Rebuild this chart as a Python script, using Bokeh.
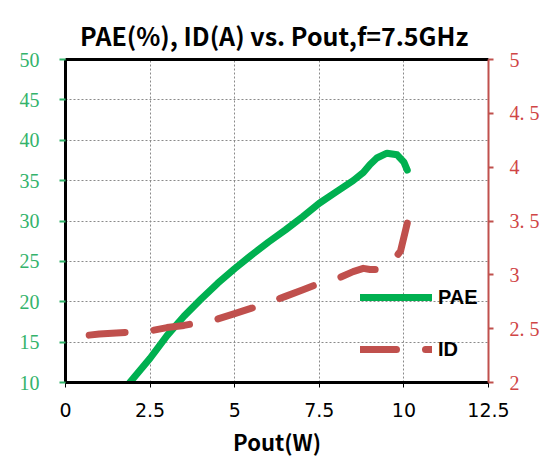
from bokeh.plotting import figure
from bokeh.models import (Range1d, LinearAxis, FixedTicker, Legend, LegendItem, Title, Grid)
from bokeh.embed import file_html
from bokeh.resources import INLINE

# ---- data ----
pout_pae = [1.9, 2.5, 3.0, 3.5, 4.0, 4.5, 5.0, 5.5, 6.0, 6.5, 7.0, 7.5, 8.0, 8.5, 8.8, 9.0, 9.2, 9.5, 9.8, 10.0, 10.1]
pae = [10.0, 13.0, 15.8, 18.2, 20.3, 22.3, 24.1, 25.8, 27.4, 28.9, 30.5, 32.2, 33.6, 35.0, 36.0, 37.0, 37.8, 38.4, 38.2, 37.3, 36.3]

pout_id = [0.7, 1.0, 1.5, 2.0, 2.5, 3.0, 3.5, 4.0, 4.5, 5.0, 5.5, 6.0, 6.5, 7.0, 7.5, 8.0, 8.5, 8.8, 9.0, 9.3, 9.6, 9.9, 10.1]
id_a = [2.44, 2.45, 2.46, 2.47, 2.48, 2.51, 2.53, 2.56, 2.59, 2.64, 2.69, 2.74, 2.80, 2.86, 2.92, 2.96, 3.03, 3.06, 3.05, 3.05, 3.10, 3.22, 3.48]

x_ticks = [0, 2.5, 5, 7.5, 10, 12.5]
x_tick_labels = ["0", "2.5", "5", "7.5", "10", "12.5"]
left_ticks = [10, 15, 20, 25, 30, 35, 40, 45, 50]
right_ticks = [2, 2.5, 3, 3.5, 4, 4.5, 5]
right_tick_labels = ["2", "2. 5", "3", "3. 5", "4", "4. 5", "5"]
title_text = "PAE(%), ID(A)  vs. Pout,f=7.5GHz"

GREEN = "#00B050"
RED = "#C0504D"
LEFT_LABEL = "#33B36B"
RIGHT_LABEL = "#D04545"

W, H = 542, 459
FL, FR, FT, FB = 65, 493, 59, 382
p = figure(width=W, height=H, x_range=Range1d(0, 12.5), y_range=Range1d(10, 50),
           output_backend="svg", toolbar_location=None,
           min_border_left=FL, min_border_right=W - FR, min_border_top=FT,
           min_border_bottom=H - FB)
p.extra_y_ranges = {"id": Range1d(2, 5)}
p.outline_line_color = None
p.background_fill_color = "white"
p.border_fill_color = "white"

p.title = Title(text=title_text, align="center",
                text_font="Noto Sans CJK SC", text_font_style="bold",
                text_font_size="25px", text_color="black", offset=-6,
                vertical_align="top", standoff=10, text_line_height=0.6)

# grid
p.xgrid.visible = False
p.ygrid.visible = False
gx = Grid(dimension=0, ticker=FixedTicker(ticks=x_ticks), grid_line_color="#8a8a8a",
          grid_line_dash="2 2", grid_line_width=1)
gy = Grid(dimension=1, ticker=FixedTicker(ticks=left_ticks), grid_line_color="#8a8a8a",
          grid_line_dash="2 2", grid_line_width=1)
p.add_layout(gx, "center")
p.add_layout(gy, "center")

# bottom axis
xa = p.xaxis[0]
xa.ticker = FixedTicker(ticks=x_ticks)
xa.major_label_overrides = {t: l for t, l in zip(x_ticks, x_tick_labels)}
xa.axis_line_color = "black"
xa.axis_line_width = 3
xa.major_tick_line_color = "black"
xa.major_tick_out = 5
xa.major_tick_in = 0
xa.minor_tick_line_color = None
xa.major_label_text_font = "DejaVu Sans"
xa.major_label_text_font_size = "19px"
xa.major_label_text_color = "black"
xa.major_label_standoff = 15
xa.axis_label = "Pout(W)"
xa.axis_label_text_font = "Noto Sans CJK SC"
xa.axis_label_text_font_style = "bold"
xa.axis_label_text_font_size = "22px"
xa.axis_label_text_color = "black"
xa.axis_label_standoff = 5

# left axis
ya = p.yaxis[0]
ya.ticker = FixedTicker(ticks=left_ticks)
ya.axis_line_color = "black"
ya.axis_line_width = 3
ya.major_tick_line_color = LEFT_LABEL
ya.major_tick_line_width = 2
ya.major_tick_out = 6
ya.major_tick_in = 0
ya.minor_tick_line_color = None
ya.major_label_text_font = "Liberation Serif"
ya.major_label_text_font_size = "20px"
ya.major_label_text_color = LEFT_LABEL
ya.major_label_standoff = 20

# right axis
ra = LinearAxis(y_range_name="id", ticker=FixedTicker(ticks=right_ticks))
ra.major_label_overrides = {t: l for t, l in zip(right_ticks, right_tick_labels)}
ra.axis_line_color = RED
ra.axis_line_width = 2
ra.major_tick_line_color = RED
ra.major_tick_line_width = 2
ra.major_tick_out = 5
ra.major_tick_in = 0
ra.minor_tick_line_color = None
ra.major_label_text_font = "Liberation Serif"
ra.major_label_text_font_size = "20px"
ra.major_label_text_color = RIGHT_LABEL
ra.major_label_standoff = 16
p.add_layout(ra, "right")

# top border
ta = LinearAxis(ticker=FixedTicker(ticks=[]))
ta.axis_line_color = "black"
ta.axis_line_width = 3
ta.major_label_text_font_size = "0px"
ta.major_tick_line_color = None
ta.minor_tick_line_color = None
p.add_layout(ta, "above")

# series
r_pae = p.line(pout_pae, pae, line_color=GREEN, line_width=7, line_cap="round", line_join="round")
r_id = p.line(pout_id, id_a, y_range_name="id", line_color=RED, line_width=7,
              line_cap="round", line_join="round", line_dash="36 29")

legend = Legend(items=[LegendItem(label="PAE", renderers=[r_pae]),
                       LegendItem(label="ID", renderers=[r_id])],
                location=(295, 20), orientation="vertical",
                glyph_width=72, glyph_height=26, label_height=26, spacing=26,
                padding=0, margin=0, label_standoff=6,
                label_text_font="Liberation Sans", label_text_font_style="bold",
                label_text_font_size="20px", label_text_color="black",
                background_fill_alpha=0, border_line_color=None)
p.add_layout(legend, "center")

open("out.html", "w").write(file_html(p, INLINE))
